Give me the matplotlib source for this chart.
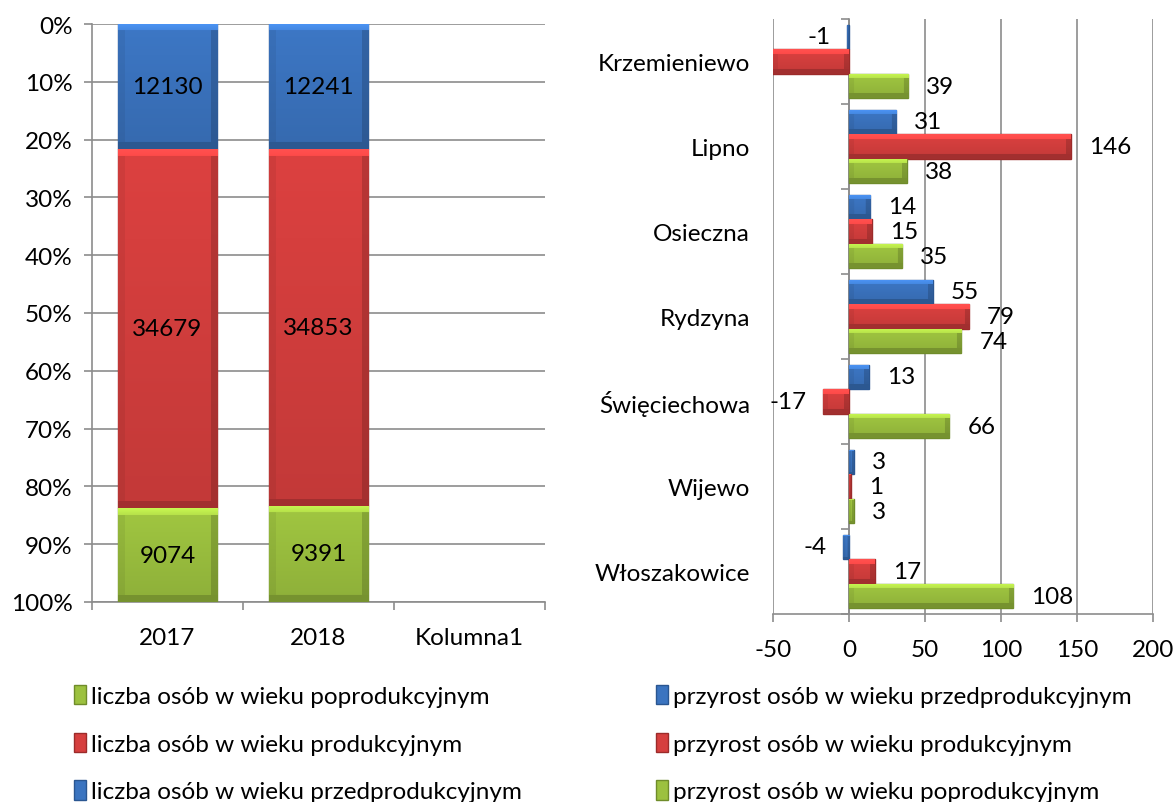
import matplotlib
matplotlib.use("Agg")
import matplotlib.pyplot as plt
import matplotlib.colors as mcolors
import matplotlib.transforms as mtransforms
from matplotlib.transforms import Bbox
import numpy as np
from matplotlib.patches import Patch

plt.rcParams['font.family'] = ['Lato', 'DejaVu Sans']
plt.rcParams['axes.unicode_minus'] = False

# ---- data: left chart ----
years = ["2017", "2018", "Kolumna1"]
pre_prod = [12130, 12241, 0]
prod = [34679, 34853, 0]
post_prod = [9074, 9391, 0]

left_labels = ["liczba osób w wieku poprodukcyjnym",
               "liczba osób w wieku produkcyjnym",
               "liczba osób w wieku przedprodukcyjnym"]

# ---- data: right chart ----
gminy = ["Krzemieniewo", "Lipno", "Osieczna", "Rydzyna", "Święciechowa", "Wijewo", "Włoszakowice"]
d_pre = [-1, 31, 14, 55, 13, 3, -4]
d_prod = [-62, 146, 15, 79, -17, 1, 17]
d_post = [39, 38, 35, 74, 66, 3, 108]
right_labels = ["przyrost osób w wieku przedprodukcyjnym",
                "przyrost osób w wieku produkcyjnym",
                "przyrost osób w wieku poprodukcyjnym"]

BLUE = "#3b74c0"; BLUE_E = "#2a5691"
RED = "#d63f3e"; RED_E = "#9c2b2a"
GREEN = "#9cc13f"; GREEN_E = "#6f8c2a"
GRID = "#8c8c8c"
FS = 17.5

W, H = 1174, 803
fig = plt.figure(figsize=(W/100, H/100), dpi=100)


def bevel(ax, bar, color, band=7):
    """Excel-like bevel shading, clipped to the bar and the axes."""
    r = fig.canvas.get_renderer()
    bb = Bbox.intersection(bar.get_window_extent(renderer=r), ax.get_window_extent(renderer=r))
    if bb is None:
        return
    wpx, hpx = int(round(bb.width)), int(round(bb.height))
    if wpx < 1 or hpx < 1:
        return
    base = np.array(mcolors.to_rgb(color))
    yy = np.arange(hpx)[:, None] * np.ones((1, wpx))
    xx = np.ones((hpx, 1)) * np.arange(wpx)[None, :]
    b = max(1.0, min(band, hpx / 3, wpx / 3))
    f = 1.03 - 0.12 * yy / max(hpx - 1, 1)
    f = np.where(xx < b, f * 0.94, f)
    f = np.where(xx > wpx - 1 - b, f * 0.84, f)
    f = np.where(yy < b, 1.28 - 0.12 * yy / b, f)
    f = np.where(yy > hpx - 1 - b, 0.76, f)
    img = np.clip(base[None, None, :] * f[:, :, None], 0, 1)
    inv = ax.transData.inverted()
    (x0, y0) = inv.transform((bb.x0, bb.y0))
    (x1, y1) = inv.transform((bb.x1, bb.y1))
    im = ax.imshow(img, extent=(x0, x1, y0, y1), origin='upper', aspect='auto',
                   interpolation='bilinear', zorder=bar.get_zorder() + 0.1)
    im.set_clip_path(bar)


# ---------- left chart ----------
axL = fig.add_axes([92/W, 1-603/H, (545-92)/W, (603-25)/H])
x = np.arange(len(years))
tot = np.array(pre_prod) + np.array(prod) + np.array(post_prod)
series = [(pre_prod, BLUE, BLUE_E), (prod, RED, RED_E), (post_prod, GREEN, GREEN_E)]
axL.set_xlim(-0.5, len(years) - 0.5)
axL.set_ylim(100, 0)
bottom = np.zeros(len(years))
left_bars = []
for vals, c, e in series:
    vals = np.array(vals, dtype=float)
    frac = np.where(tot > 0, vals / np.where(tot == 0, 1, tot) * 100, np.nan)
    bars = axL.bar(x, frac, bottom=bottom, width=0.66, color=c, edgecolor=e, linewidth=1.0, zorder=3)
    left_bars.append((bars, c))
    for i in range(len(years)):
        if vals[i] > 0:
            axL.text(x[i], bottom[i] + frac[i] / 2, str(int(vals[i])), ha='center', va='center',
                     fontsize=FS, zorder=5)
    bottom = bottom + np.nan_to_num(frac)
axL.set_yticks(np.arange(0, 101, 10))
axL.set_yticklabels([f"{v}%" for v in range(0, 101, 10)])
axL.set_xticks(x)
axL.set_xticklabels(years)
axL.set_xticks(np.arange(-0.5, len(years), 1), minor=True)
axL.tick_params(axis='x', which='major', length=0, pad=18, labelsize=FS)
axL.tick_params(axis='x', which='minor', length=6, color=GRID, width=1.2)
axL.tick_params(axis='y', length=6, color=GRID, width=1.2, labelsize=FS, pad=8)
axL.yaxis.grid(True, color=GRID, linewidth=1.2, zorder=0)
for s in ['top', 'right']:
    axL.spines[s].set_visible(False)
for s in ['left', 'bottom']:
    axL.spines[s].set_color(GRID)
    axL.spines[s].set_linewidth(1.2)

# ---------- right chart ----------
axR = fig.add_axes([773/W, 1-615/H, (1153-773)/W, (615-20)/H])
n = len(gminy)
yc = np.arange(n)
bh = 0.29
rs = [(d_pre, BLUE, BLUE_E, -bh), (d_prod, RED, RED_E, 0), (d_post, GREEN, GREEN_E, bh)]
xmin, xmax = -50, 200
axR.set_xlim(xmin, xmax)
axR.set_ylim(n - 0.5, -0.5)
right_bars = []
for vals, c, e, off in rs:
    bars = axR.barh(yc + off, vals, height=bh, color=c, edgecolor=e, linewidth=1.0, zorder=3)
    right_bars.append((bars, c))
    for i, v in enumerate(vals):
        if v < xmin or v > xmax:
            continue
        if v >= 0:
            axR.annotate(str(v), (v, yc[i] + off), xytext=(13, 0), textcoords='offset points',
                         ha='left', va='center', fontsize=FS, zorder=5)
        else:
            axR.annotate(str(v), (v, yc[i] + off), xytext=(-12, 0), textcoords='offset points',
                         ha='right', va='center', fontsize=FS, zorder=5)
axR.set_xticks(np.arange(-50, 201, 50))
axR.xaxis.grid(True, color=GRID, linewidth=1.2, zorder=0)
axR.tick_params(axis='x', length=6, color=GRID, width=1.2, labelsize=FS, pad=12)
axR.set_yticks(yc)
axR.set_yticklabels(gminy)
axR.tick_params(axis='y', which='major', length=0, labelsize=FS)
axR.set_yticks(np.arange(-0.5, n, 1), minor=True)
axR.tick_params(axis='y', which='minor', length=6, color=GRID, width=1.2)
for s in ['top', 'right']:
    axR.spines[s].set_visible(False)
axR.spines['left'].set_position(('data', 0))
axR.spines['left'].set_color(GRID)
axR.spines['bottom'].set_color(GRID)
axR.spines['bottom'].set_linewidth(1.2)
axR.spines['left'].set_linewidth(1.2)
for t in axR.yaxis.get_major_ticks():
    t.label1.set_transform(mtransforms.blended_transform_factory(axR.transAxes, axR.transData)
                           + mtransforms.ScaledTranslation(-23/100, 0, fig.dpi_scale_trans))

# ---------- bevel shading ----------
fig.canvas.draw()
for bars, c in left_bars:
    for b in bars:
        if np.isfinite(b.get_height()) and b.get_height() > 0:
            bevel(axL, b, c, band=7)
for bars, c in right_bars:
    for b in bars:
        if b.get_width() != 0:
            bevel(axR, b, c, band=5)
axL.set_xlim(-0.5, len(years) - 0.5)
axL.set_ylim(100, 0)
axR.set_xlim(xmin, xmax)
axR.set_ylim(n - 0.5, -0.5)

# ---------- legends ----------
hl = [Patch(facecolor=GREEN, edgecolor=GREEN_E), Patch(facecolor=RED, edgecolor=RED_E),
      Patch(facecolor=BLUE, edgecolor=BLUE_E)]
fig.legend(hl, left_labels, loc='upper left', bbox_to_anchor=(52/W, 1-664/H), frameon=False,
           fontsize=FS, handlelength=0.5, handleheight=0.85, handletextpad=0.2, labelspacing=1.05)
hr = [Patch(facecolor=BLUE, edgecolor=BLUE_E), Patch(facecolor=RED, edgecolor=RED_E),
      Patch(facecolor=GREEN, edgecolor=GREEN_E)]
fig.legend(hr, right_labels, loc='upper left', bbox_to_anchor=(634/W, 1-664/H), frameon=False,
           fontsize=FS, handlelength=0.5, handleheight=0.85, handletextpad=0.2, labelspacing=1.05)

fig.savefig("out.png", dpi=100)
